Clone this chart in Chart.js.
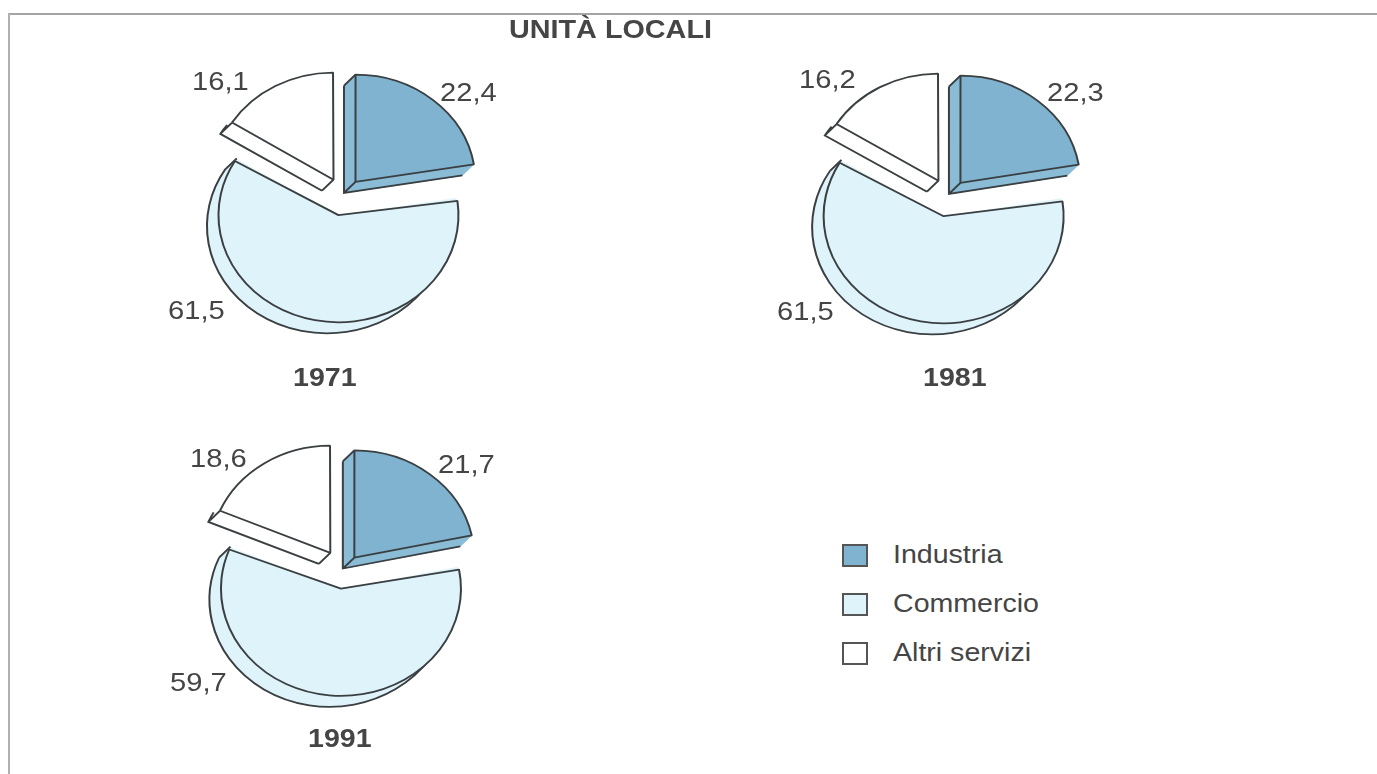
<!DOCTYPE html>
<html><head><meta charset="utf-8">
<script src="https://cdn.jsdelivr.net/npm/chart.js@4"></script>
<style>
html,body{margin:0;padding:0;background:#fff;width:1377px;height:774px;overflow:hidden}
body{position:relative;font-family:"Liberation Sans",Arial,sans-serif;color:#454545}
#frameT{position:absolute;left:8px;top:13px;width:1369px;height:2px;background:#a4a4a4}
#frameL{position:absolute;left:8px;top:13px;width:2px;height:761px;background:#b0b0b0}
canvas{position:absolute}
.t{position:absolute;white-space:nowrap;transform-origin:0 0;transform:scaleX(1.12);font-size:25.5px;line-height:30px}
.b{font-weight:bold}
.sw{position:absolute;width:22px;height:19px;border:2px solid #555;box-sizing:content-box}
</style></head>
<body>
<div id="frameT"></div><div id="frameL"></div>
<script>
const categories = ["Industria", "Commercio", "Altri servizi"];
const years = ["1971", "1981", "1991"];
const values1971 = [22.4, 61.5, 16.1];
const values1981 = [22.3, 61.5, 16.2];
const values1991 = [21.7, 59.7, 18.6];
const colors = ["#7fb3cf", "#dff3fa", "#ffffff"];
const sideColors = ["#8abcd6", "#dff3fa", "#ffffff"];
const titleText = "UNITÀ LOCALI";

const STRETCH = 1.12;            // reference is wider than tall
const SY = 1 / STRETCH;
const RADIUS = 120;
const DEPTH = [-11.5, 11];
const SIZE = 420;
const LINE = "#3a3f42";

const panels = [
  {year:years[0], values:values1971, cx:342.5, cy:195, gap:[19.3,23,19.6],
   labels:[[97,-103],[-175,115],[-151,-114]], yearPos:[293,362]},
  {year:years[1], values:values1981, cx:947.5, cy:196, gap:[19.3,23,19.6],
   labels:[[99,-104],[-171,115],[-149,-117]], yearPos:[923,362]},
  {year:years[2], values:values1991, cx:343, cy:569.5, gap:[18,21,23],
   labels:[[95,-106],[-173,112],[-153,-112]], yearPos:[308,723]}
];

function center(arc){
  const half = (arc.startAngle + arc.endAngle)/2;
  const k = (arc.options.offset||0)/4;
  return [arc.x + Math.cos(half)*k, arc.y + Math.sin(half)*k];
}
function trace(ctx, arc, dx, dy){
  const [x,y] = center(arc);
  ctx.beginPath();
  ctx.moveTo(x+dx, y+dy);
  ctx.arc(x+dx, y+dy, RADIUS, arc.startAngle, arc.endAngle);
  ctx.closePath();
}

const pie3d = {
  id:"pie3d",
  beforeDatasetsDraw(chart){
    const ctx = chart.ctx, arcs = chart.getDatasetMeta(0).data;
    const ox = arcs[0].x, oy = arcs[0].y;
    // Chart.js grows an exploded slice's radius; keep all slices the same size
    arcs.forEach(arc=>{
      const c = arc.endAngle - arc.startAngle;
      const fix = 1 - Math.sin(Math.min(Math.PI, c));
      arc.outerRadius = RADIUS - fix*(arc.options.offset||0)/4;
    });
    ctx.save();
    ctx.translate(ox,oy); ctx.scale(1,SY); ctx.translate(-ox,-oy);
    const dx = DEPTH[0], dy = DEPTH[1]/SY;
    [2,1,0].forEach(i=>{
      const arc = arcs[i];
      ctx.fillStyle = sideColors[i]; ctx.strokeStyle = sideColors[i]; ctx.lineWidth = 1;
      const N = 14;
      for(let s=1;s<=N;s++){
        trace(ctx,arc,dx*s/N,dy*s/N); ctx.fill(); ctx.stroke();
      }
      ctx.strokeStyle = LINE; ctx.lineWidth = 2;
      const [x,y] = center(arc), r = RADIUS;
      const sx = r*Math.cos(arc.startAngle), sy = r*Math.sin(arc.startAngle);
      const ex = r*Math.cos(arc.endAngle), ey = r*Math.sin(arc.endAngle);
      ctx.beginPath();
      if(i===0){
        // slab: both straight back edges, the outer rim fades out
        ctx.moveTo(x+sx+dx,y+sy+dy); ctx.lineTo(x+dx,y+dy); ctx.lineTo(x+ex+dx,y+ey+dy);
        ctx.moveTo(x+sx,y+sy); ctx.lineTo(x+sx+dx,y+sy+dy);
      } else if(i===2){
        // strip: lower edge plus the short corner at the slice tip
        ctx.moveTo(x+dx,y+dy); ctx.lineTo(x+sx+dx,y+sy+dy);
        ctx.arc(x+dx,y+dy,r,arc.startAngle,arc.startAngle+0.1);
        ctx.moveTo(x+sx,y+sy); ctx.lineTo(x+sx+dx,y+sy+dy);
      } else {
        ctx.arc(x+dx,y+dy,r,arc.startAngle,arc.endAngle);
        ctx.moveTo(x+ex,y+ey); ctx.lineTo(x+ex+dx,y+ey+dy);
      }
      ctx.moveTo(x,y); ctx.lineTo(x+dx,y+dy);
      ctx.stroke();
    });
  },
  afterDatasetsDraw(chart,args,opts){
    const ctx = chart.ctx;
    ctx.restore();
    const arcs = chart.getDatasetMeta(0).data, ox = arcs[0].x, oy = arcs[0].y;
    const vals = chart.data.datasets[0].data;
    ctx.save();
    ctx.font = '26px "Liberation Sans", Arial, sans-serif';
    ctx.fillStyle = "#454545"; ctx.textBaseline = "middle"; ctx.textAlign = "left";
    vals.forEach((v,i)=>{
      const [lx,ly] = opts.labels[i];
      ctx.save();
      ctx.translate(ox+lx, oy+ly+1.5); ctx.scale(STRETCH,1);
      ctx.fillText(v.toFixed(1).replace(".",","),0,0);
      ctx.restore();
    });
    ctx.restore();
  }
};

panels.forEach(p=>{
  const cv = document.createElement("canvas");
  cv.width = SIZE; cv.height = SIZE;
  cv.style.cssText = `left:${p.cx-SIZE/2}px;top:${p.cy-SIZE/2}px;width:${SIZE}px;height:${SIZE}px`;
  document.body.appendChild(cv);
  new Chart(cv,{
    type:"pie",
    data:{labels:categories,datasets:[{
      data:p.values,
      backgroundColor:colors,
      borderColor:LINE,
      borderWidth:2,
      offset:p.gap.map(g=>g*4)
    }]},
    options:{
      responsive:false,animation:false,radius:RADIUS,
      layout:{padding:0},
      events:[],
      plugins:{legend:{display:false},tooltip:{enabled:false},title:{display:false},
        pie3d:{labels:p.labels}}
    },
    plugins:[pie3d]
  });
  const y = document.createElement("div");
  y.className="t b"; y.textContent=p.year;
  y.style.left=p.yearPos[0]+"px"; y.style.top=p.yearPos[1]+"px";
  document.body.appendChild(y);
});

const tt = document.createElement("div");
tt.className="t b"; tt.textContent=titleText;
tt.style.left="509px"; tt.style.top="14px"; tt.style.fontSize="25.7px";
document.body.appendChild(tt);

const swatchY=[544,593,642], textY=[539,588,637];
categories.forEach((c,i)=>{
  const s=document.createElement("div"); s.className="sw";
  s.style.left="842px"; s.style.top=swatchY[i]+"px"; s.style.background=colors[i];
  document.body.appendChild(s);
  const t=document.createElement("div"); t.className="t"; t.textContent=c;
  t.style.left="893px"; t.style.top=textY[i]+"px";
  document.body.appendChild(t);
});
</script>
</body></html>
